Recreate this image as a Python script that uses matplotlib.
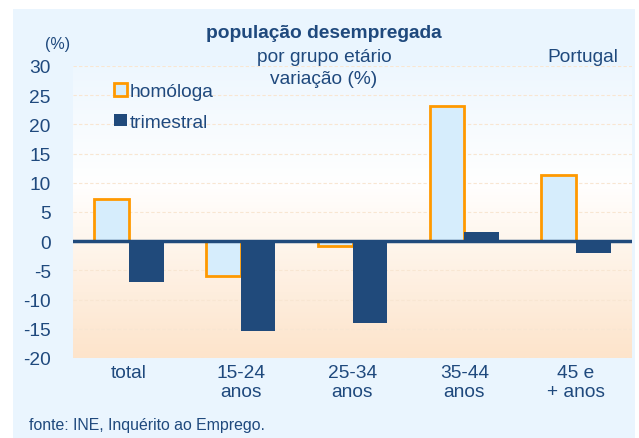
import matplotlib
matplotlib.use("Agg")
import matplotlib.pyplot as plt
import numpy as np
from matplotlib.colors import LinearSegmentedColormap
from matplotlib.patches import Rectangle

categories = ["total", "15-24\nanos", "25-34\nanos", "35-44\nanos", "45 e\n+ anos"]
homologa = [7.3, -5.9, -0.9, 23.1, 11.3]
trimestral = [-7.0, -15.3, -14.0, 1.5, -2.0]
yticks = [30, 25, 20, 15, 10, 5, 0, -5, -10, -15, -20]

plt.rcParams['font.family'] = ['Liberation Sans', 'DejaVu Sans']
txt = '#1F497D'
dark = '#204A7B'
orange = '#FF9900'
light = '#D6EDFC'
FS = 13.8

fig = plt.figure(figsize=(6.39, 4.39), dpi=100)
fig.patch.set_facecolor('white')
fig.add_artist(Rectangle((13/639, 0), (635-13)/639, 1 - 10/439, transform=fig.transFigure,
                         facecolor='#EAF5FE', edgecolor='none', zorder=-10))

ax = fig.add_axes([73/639, 1 - 359/439, (632-73)/639, (359-67)/439])
ax.set_ylim(-20, 30)
ax.set_xlim(-0.5, len(categories) - 0.5)

cmap = LinearSegmentedColormap.from_list('bg', [(0.0, '#FDE4CB'), (0.45, '#FFF8F1'), (0.6, '#FFFFFF'), (1.0, '#EEF7FE')])
grad = np.linspace(0, 1, 256).reshape(-1, 1)
ax.imshow(grad, aspect='auto', cmap=cmap, origin='lower', extent=[0, 1, 0, 1],
          transform=ax.transAxes, zorder=0)

for y in yticks:
    if y != 0:
        ax.axhline(y, color='#F8E6D2', lw=0.8, ls=(0, (3, 2)), zorder=1)

x = np.arange(len(categories))
w = 0.31
ax.bar(x - w/2, homologa, w, color=light, edgecolor=orange, linewidth=2, zorder=3, label='homóloga')
ax.bar(x + w/2, trimestral, w, color=dark, edgecolor='none', zorder=3, label='trimestral')
ax.axhline(0, color=dark, lw=2.5, zorder=4)

ax.set_yticks(yticks)
ax.set_yticklabels([str(v) for v in yticks], fontsize=FS, color=txt)
ax.set_xticks(x)
ax.set_xticklabels(categories, fontsize=FS, color=txt, linespacing=1.2)
ax.tick_params(length=0)
ax.tick_params(axis='x', pad=4)
ax.tick_params(axis='y', pad=16)
for s in ax.spines.values():
    s.set_visible(False)

leg = ax.legend(loc='upper left', bbox_to_anchor=(0.06, 0.968), frameon=False, fontsize=FS,
                handlelength=0.65, handleheight=0.65, handletextpad=0.15, labelspacing=0.7,
                labelcolor=txt, borderaxespad=0)

fig.text(324/639, 1 - 33/439, 'população desempregada', ha='center', va='center',
         fontsize=FS, fontweight='bold', color=txt)
fig.text(324/639, 1 - 57/439, 'por grupo etário', ha='center', va='center', fontsize=FS, color=txt)
fig.text(324/639, 1 - 80/439, 'variação (%)', ha='center', va='center', fontsize=FS, color=txt)
fig.text(618/639, 1 - 58/439, 'Portugal', ha='right', va='center', fontsize=FS, color=txt)
fig.text(58/639, 1 - 45/439, '(%)', ha='center', va='center', fontsize=11.5, color=txt)
fig.text(29/639, 1 - 426/439, 'fonte: INE, Inquérito ao Emprego.', ha='left', va='center',
         fontsize=11.4, color=txt)

fig.savefig('out.png', dpi=100, facecolor='white')
